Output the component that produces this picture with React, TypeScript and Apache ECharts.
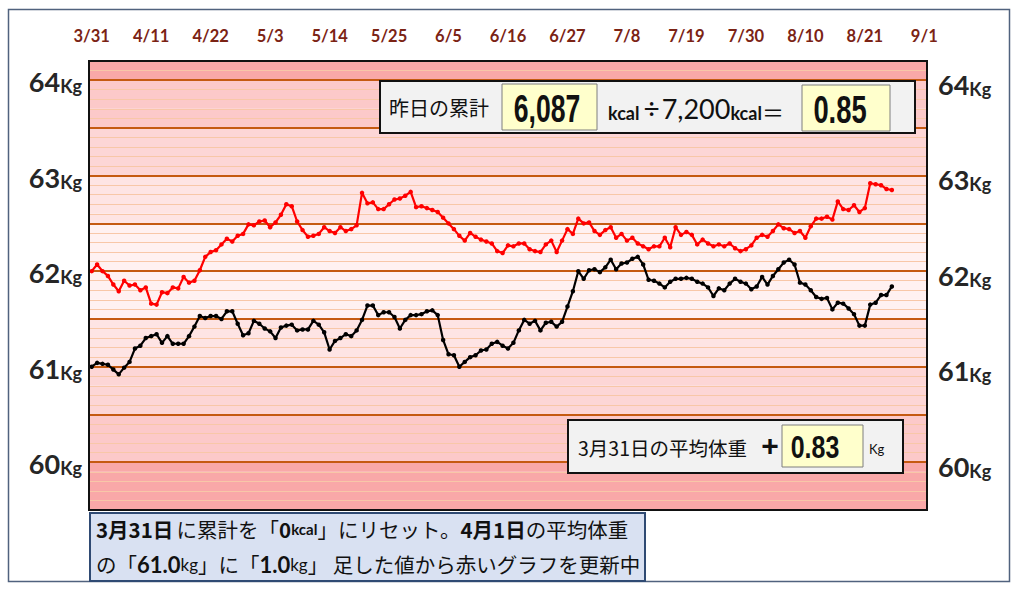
import React, { useEffect, useRef } from 'react';
import * as echarts from 'echarts';

// ---- data ----
const tickLabels = ['3/31', '4/11', '4/22', '5/3', '5/14', '5/25', '6/5', '6/16', '6/27', '7/8', '7/19', '7/30', '8/10', '8/21', '9/1'];
const dayCount = 155; // 3/31 .. 9/1
const yLabelValues = [60, 61, 62, 63, 64];
const majorLines = [60, 60.5, 61, 61.5, 62, 62.5, 63, 63.5, 64];

const redCumulative = [
  62.00, 62.07, 62.00, 61.95, 61.86, 61.79, 61.90, 61.85, 61.86, 61.80,
  61.83, 61.66, 61.65, 61.78, 61.77, 61.83, 61.82, 61.94, 61.88, 61.90,
  62.01, 62.15, 62.20, 62.22, 62.28, 62.34, 62.31, 62.37, 62.39, 62.49,
  62.48, 62.52, 62.53, 62.46, 62.51, 62.59, 62.70, 62.68, 62.52, 62.43,
  62.36, 62.37, 62.39, 62.46, 62.42, 62.40, 62.46, 62.42, 62.44, 62.48,
  62.82, 62.71, 62.72, 62.65, 62.65, 62.70, 62.75, 62.76, 62.79, 62.83,
  62.67, 62.68, 62.66, 62.64, 62.62, 62.56, 62.50, 62.44, 62.37, 62.32,
  62.40, 62.36, 62.33, 62.31, 62.29, 62.21, 62.19, 62.27, 62.26, 62.29,
  62.29, 62.23, 62.21, 62.20, 62.28, 62.32, 62.20, 62.32, 62.44, 62.39,
  62.55, 62.50, 62.51, 62.42, 62.38, 62.43, 62.46, 62.35, 62.39, 62.32,
  62.35, 62.29, 62.26, 62.23, 62.26, 62.26, 62.35, 62.25, 62.46, 62.38,
  62.41, 62.38, 62.28, 62.33, 62.29, 62.26, 62.28, 62.26, 62.29, 62.24,
  62.21, 62.23, 62.27, 62.35, 62.38, 62.36, 62.42, 62.49, 62.45, 62.44,
  62.40, 62.42, 62.35, 62.47, 62.55, 62.55, 62.57, 62.54, 62.73, 62.65,
  62.64, 62.69, 62.62, 62.66, 62.92, 62.91, 62.90, 62.86, 62.85
];

const blackWeight = [
  61.00, 61.04, 61.03, 61.02, 60.97, 60.92, 60.99, 61.05, 61.19, 61.22,
  61.30, 61.32, 61.34, 61.25, 61.32, 61.24, 61.24, 61.24, 61.32, 61.42,
  61.53, 61.51, 61.53, 61.53, 61.50, 61.58, 61.58, 61.45, 61.33, 61.35,
  61.48, 61.45, 61.40, 61.37, 61.30, 61.41, 61.43, 61.44, 61.38, 61.39,
  61.39, 61.48, 61.44, 61.36, 61.18, 61.27, 61.30, 61.34, 61.32, 61.38,
  61.49, 61.64, 61.64, 61.54, 61.57, 61.57, 61.52, 61.40, 61.49, 61.54,
  61.54, 61.55, 61.58, 61.59, 61.54, 61.28, 61.13, 61.12, 61.00, 61.05,
  61.10, 61.12, 61.17, 61.18, 61.24, 61.26, 61.22, 61.19, 61.25, 61.38,
  61.49, 61.45, 61.48, 61.38, 61.46, 61.47, 61.42, 61.47, 61.63, 61.79,
  62.00, 61.92, 62.01, 62.02, 61.99, 62.04, 62.12, 62.02, 62.08, 62.09,
  62.13, 62.15, 62.07, 61.91, 61.90, 61.87, 61.83, 61.89, 61.92, 61.92,
  61.93, 61.92, 61.89, 61.87, 61.83, 61.74, 61.82, 61.80, 61.87, 61.92,
  61.89, 61.87, 61.81, 61.84, 61.94, 61.86, 61.95, 62.02, 62.09, 62.12,
  62.07, 61.88, 61.86, 61.80, 61.73, 61.71, 61.72, 61.60, 61.67, 61.66,
  61.61, 61.55, 61.43, 61.43, 61.65, 61.67, 61.75, 61.75, 61.84
];

const yesterdayKcal = '6,087';
const targetKcal = '7,200';
const ratio = '0.85';
const avgDiff = '0.83';

// ---- styling ----
const LAT = "Lato, 'Noto Sans CJK JP', sans-serif";
const JP = "'Noto Sans CJK JP', sans-serif";
const NUM = "'Liberation Sans', Arimo, sans-serif";
const Y_MIN = 59.5;
const Y_MAX = 64.2;
const STEP = 0.1;

const bandPalette = ['#F9A8A8', '#FCC9C9', '#FDD6D6', '#FEE4E4', '#FFF1F1'];
function bandColor(v: number): string {
  const x = v + 1e-6;
  if (x >= 64) return bandPalette[0];
  if (x >= 63.5) return bandPalette[1];
  if (x >= 63) return bandPalette[2];
  if (x >= 62.5) return bandPalette[3];
  if (x >= 61.5) return bandPalette[4];
  if (x >= 61) return bandPalette[3];
  if (x >= 60.5) return bandPalette[2];
  if (x >= 60) return bandPalette[1];
  return bandPalette[0];
}

export default function App() {
  const ref = useRef<HTMLDivElement>(null);

  useEffect(() => {
    if (!ref.current) return;
    const chart = echarts.init(ref.current, undefined, { renderer: 'svg' });

    const start = Date.UTC(2021, 2, 31);
    const categories = Array.from({ length: dayCount }, (_, i) => {
      const d = new Date(start + i * 86400000);
      return `${d.getUTCMonth() + 1}/${d.getUTCDate()}`;
    });

    const nIntervals = Math.round((Y_MAX - Y_MIN) / STEP);
    const areaColors = Array.from({ length: nIntervals }, (_, i) => bandColor(Y_MIN + i * STEP));

    const yLabelFmt = (v: number) => {
      const r = Math.round(v);
      if (Math.abs(v - r) < 1e-6 && yLabelValues.includes(r)) return `{a|${r}}{b|Kg}`;
      return '';
    };
    const yRich = {
      a: { fontSize: 27, fontWeight: 'bold', color: '#262626', fontFamily: LAT, verticalAlign: 'bottom', lineHeight: 30 },
      b: { fontSize: 18, fontWeight: 'bold', color: '#262626', fontFamily: LAT, verticalAlign: 'bottom', lineHeight: 25 },
    };

    const PL = 89, PT = 61, PR = 927, PB = 510;

    const option: any = {
      animation: false,
      backgroundColor: '#ffffff',
      grid: { left: PL, top: PT, right: 1024 - PR, bottom: 590 - PB, containLabel: false },
      xAxis: {
        type: 'category',
        position: 'top',
        boundaryGap: true,
        data: categories,
        axisLine: { show: false },
        axisTick: { show: false },
        splitLine: { show: false },
        axisLabel: {
          interval: 10,
          color: '#7B2314',
          fontWeight: 'bold',
          fontSize: 16.5,
          fontFamily: LAT,
          margin: 17,
          formatter: (val: string, idx: number) => (idx % 11 === 0 ? tickLabels[idx / 11] ?? val : ''),
        },
      },
      yAxis: [
        {
          type: 'value',
          position: 'left',
          min: Y_MIN,
          max: Y_MAX,
          interval: STEP,
          axisLine: { show: false },
          axisTick: { show: false },
          splitLine: { show: true, lineStyle: { color: '#F8C7A8', width: 1 } },
          splitArea: { show: true, areaStyle: { color: areaColors } },
          axisLabel: { margin: 7, formatter: yLabelFmt, rich: yRich },
        },
        {
          type: 'value',
          position: 'right',
          min: Y_MIN,
          max: Y_MAX,
          interval: STEP,
          axisLine: { show: false },
          axisTick: { show: false },
          splitLine: { show: false },
          splitArea: { show: false },
          axisLabel: { margin: 11, formatter: yLabelFmt, rich: yRich, padding: [5, 0, 0, 0] },
        },
      ],
      series: [
        {
          type: 'line',
          name: 'major',
          data: [],
          z: 1,
          silent: true,
          markLine: {
            silent: true,
            symbol: ['none', 'none'],
            label: { show: false },
            lineStyle: { color: '#C55A11', width: 2, type: 'solid' },
            data: majorLines.map((v) => ({ yAxis: v })),
          },
        },
        {
          type: 'line',
          name: '累計',
          data: redCumulative,
          z: 10,
          color: '#FF0000',
          lineStyle: { width: 2.2, color: '#FF0000' },
          symbol: 'circle',
          symbolSize: 4.5,
          showAllSymbol: true,
          itemStyle: { color: '#FF0000' },
        },
        {
          type: 'line',
          name: '体重',
          data: blackWeight,
          z: 10,
          color: '#000000',
          lineStyle: { width: 2.2, color: '#000000' },
          symbol: 'circle',
          symbolSize: 4.5,
          showAllSymbol: true,
          itemStyle: { color: '#000000' },
        },
      ],
      graphic: [
        // outer frame
        { type: 'rect', z: 100, shape: { x: 8.5, y: 9.5, width: 1001, height: 572 }, style: { fill: 'none', stroke: '#50627E', lineWidth: 1.5 } },
        // plot border
        { type: 'rect', z: 100, shape: { x: PL, y: PT, width: PR - PL, height: PB - PT }, style: { fill: 'none', stroke: '#111111', lineWidth: 2 } },

        // top info box
        { type: 'rect', z: 101, shape: { x: 380, y: 81, width: 535, height: 52 }, style: { fill: '#F2F2F2', stroke: '#111111', lineWidth: 2 } },
        { type: 'text', z: 102, x: 389, y: 107, style: { text: '昨日の累計', fontSize: 20, fontFamily: JP, fill: '#111111', align: 'left', verticalAlign: 'middle' } },
        { type: 'rect', z: 102, shape: { x: 502, y: 84, width: 95, height: 46 }, style: { fill: '#FFFFCC', stroke: '#7F7F7F', lineWidth: 1 } },
        { type: 'text', z: 103, x: 547, y: 109, scaleX: 0.7, style: { text: yesterdayKcal, fontSize: 38, fontWeight: 'bold', fontFamily: NUM, fill: '#111111', align: 'center', verticalAlign: 'middle' } },
        {
          type: 'text', z: 102, x: 608, y: 107,
          style: {
            text: `{s|kcal}{d|÷}{b|${targetKcal}}{s|kcal}{e|＝}`,
            align: 'left', verticalAlign: 'middle',
            rich: {
              s: { fontSize: 18, fontWeight: 'bold', fontFamily: LAT, fill: '#111111', verticalAlign: 'bottom', lineHeight: 27 },
              d: { fontSize: 28, fontFamily: LAT, fill: '#111111', verticalAlign: 'bottom', lineHeight: 30, padding: [0, 2, 0, 4] },
              b: { fontSize: 27, fontFamily: LAT, fill: '#111111', verticalAlign: 'bottom', lineHeight: 30 },
              e: { fontSize: 22, fontFamily: JP, fill: '#111111', verticalAlign: 'bottom', lineHeight: 30, padding: [0, 0, 0, 0] },
            },
          },
        },
        { type: 'rect', z: 102, shape: { x: 802, y: 85, width: 88, height: 46 }, style: { fill: '#FFFFCC', stroke: '#7F7F7F', lineWidth: 1 } },
        { type: 'text', z: 103, x: 840, y: 110, scaleX: 0.72, style: { text: ratio, fontSize: 38, fontWeight: 'bold', fontFamily: NUM, fill: '#111111', align: 'center', verticalAlign: 'middle' } },

        // bottom-right box
        { type: 'rect', z: 101, shape: { x: 568, y: 420, width: 335, height: 53 }, style: { fill: '#F2F2F2', stroke: '#111111', lineWidth: 2 } },
        { type: 'text', z: 102, x: 578, y: 447, style: { text: '3月31日の平均体重', fontSize: 19.5, fontFamily: JP, fill: '#111111', align: 'left', verticalAlign: 'middle' } },
        { type: 'text', z: 102, x: 770, y: 445, style: { text: '+', fontSize: 30, fontWeight: 'bold', fontFamily: NUM, fill: '#111111', align: 'center', verticalAlign: 'middle' } },
        { type: 'rect', z: 102, shape: { x: 782, y: 425, width: 81, height: 42 }, style: { fill: '#FFFFCC', stroke: '#7F7F7F', lineWidth: 1 } },
        { type: 'text', z: 103, x: 815, y: 447, scaleX: 0.78, style: { text: avgDiff, fontSize: 32, fontWeight: 'bold', fontFamily: NUM, fill: '#111111', align: 'center', verticalAlign: 'middle' } },
        { type: 'text', z: 102, x: 869, y: 449, style: { text: 'Kg', fontSize: 13, fontFamily: LAT, fill: '#111111', align: 'left', verticalAlign: 'middle' } },

        // bottom-left note
        { type: 'rect', z: 101, shape: { x: 90, y: 513, width: 555, height: 68 }, style: { fill: '#D9E1F2', stroke: '#2F4A73', lineWidth: 2 } },
        {
          type: 'text', z: 102, x: 96, y: 529,
          style: {
            text: '{B|3月31日} {n|に累計を「}{B|0}{s|kcal}{n|」にリセット。}{B|4月1日}{n|の平均体重}',
            align: 'left', verticalAlign: 'middle',
            rich: {
              B: { fontSize: 20.5, fontWeight: 'bold', fontFamily: JP, fill: '#111111' },
              n: { fontSize: 20.5, fontFamily: JP, fill: '#111111' },
              s: { fontSize: 15, fontWeight: 'bold', fontFamily: LAT, fill: '#111111' },
            },
          },
        },
        {
          type: 'text', z: 102, x: 96, y: 564,
          style: {
            text: '{n|の「}{B|61.0}{s|kg}{n|」に「}{B|1.0}{s|kg}{n|」 足した値から赤いグラフを更新中}',
            align: 'left', verticalAlign: 'middle',
            rich: {
              B: { fontSize: 22, fontWeight: 'bold', fontFamily: LAT, fill: '#111111' },
              n: { fontSize: 20.5, fontFamily: JP, fill: '#111111' },
              s: { fontSize: 17, fontFamily: LAT, fill: '#111111' },
            },
          },
        },
      ],
    };

    chart.setOption(option);
    return () => chart.dispose();
  }, []);

  return <div ref={ref} style={{ position: 'fixed', left: 0, top: 0, width: 1024, height: 590 }} />;
}
